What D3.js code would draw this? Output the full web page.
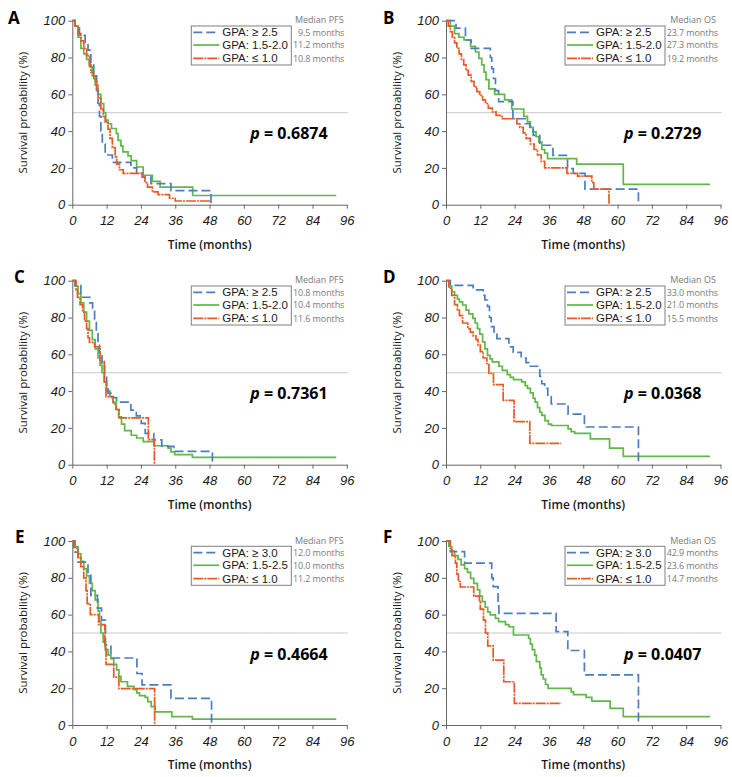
<!DOCTYPE html>
<html><head><meta charset="utf-8">
<script src="https://cdn.jsdelivr.net/npm/d3@7"></script>
<style>body{margin:0;background:#fff}</style>
</head><body>
<svg id="c" width="732" height="777"></svg>
<script>
// ---------- data ----------
const timeTicks = [0, 12, 24, 36, 48, 60, 72, 84, 96];
const survTicks = [0, 20, 40, 60, 80, 100];
const panelLetters = ["A", "B", "C", "D", "E", "F"];
const medianTitles = ["Median PFS", "Median OS", "Median PFS", "Median OS", "Median PFS", "Median OS"];
const groupLabelsAD = ["GPA: \u2265 2.5", "GPA: 1.5-2.0", "GPA: \u2264 1.0"];
const groupLabelsEF = ["GPA: \u2265 3.0", "GPA: 1.5-2.5", "GPA: \u2264 1.0"];
const mediansA = ["9.5 months", "11.2 months", "10.8 months"];
const mediansB = ["23.7 months", "27.3 months", "19.2 months"];
const mediansC = ["10.8 months", "10.4 months", "11.6 months"];
const mediansD = ["33.0 months", "21.0 months", "15.5 months"];
const mediansE = ["12.0 months", "10.0 months", "11.2 months"];
const mediansF = ["42.9 months", "23.6 months", "14.7 months"];
const pValues = ["0.6874", "0.2729", "0.7361", "0.0368", "0.4664", "0.0407"];

// survival steps: [time (months), survival (%) after the step]
const A_hi = [[0,100],[1,96],[2.5,92],[4.5,88],[5.5,84],[6.5,77],[7.5,70],[8.5,62],[9,55],[9.5,48],[10,40],[10.5,33],[11.5,27],[14,23],[20.5,20],[22.5,17],[24.5,15],[27.5,11.5],[34.5,7.7],[48.5,0]];
const A_mid = [[0,100],[1,97],[2,91],[3,85],[4,82],[5,79],[6,75],[7,70],[8,65],[9,60],[10,55],[11,50],[11.7,46],[12.5,44],[13.7,41.4],[15.4,38.7],[16,35],[17,32],[17.7,28.7],[19.5,26.5],[20.6,24],[22.5,20.5],[24.8,16],[28,12.7],[30.7,9.6],[42.1,5],[92.3,5]];
const A_lo = [[0,100],[1,97],[2,93],[3,89],[4,85],[5,81],[6,76],[6.5,72],[7.5,68],[8.5,63],[9,58],[10,52],[10.8,48],[11.5,45],[12.5,41],[13.2,36],[14,31],[15,26],[15.5,22],[16.5,19],[17.8,17],[24.5,15],[25.4,12],[26.3,9.6],[28,7],[30,5.5],[34,3.5],[36,2],[48.5,2]];

const B_hi = [[0,100],[3.5,96],[6.8,89.5],[8.8,85],[15.5,80],[16,74],[16.6,68.6],[17.3,62],[18.4,56],[23.4,46.7],[27.8,44],[29.3,41],[30.5,37.7],[32.8,32.3],[37.4,26.8],[42.5,19.6],[44.5,17],[48.6,8.5],[67.3,0]];
const B_mid = [[0,100],[1.5,97],[3,93],[4.5,91],[6.3,89.5],[8.6,86],[10.3,83],[11.5,79.5],[12.5,76],[13.3,72],[14,68],[15,63],[17,60],[20.5,57],[23,52],[27.2,48],[28.5,45],[29.5,42],[30.5,39.6],[31.5,37],[32.5,34],[33.5,30],[34.5,28],[35.5,25],[45.7,22],[62,11],[92.3,11]];
const B_lo = [[0,100],[0.8,97],[1.5,94],[2.2,91],[3,88],[3.8,85],[4.6,82],[5.4,79],[6.2,76],[7,73],[7.8,70.4],[8.8,67],[9.8,64],[10.8,61.5],[11.8,59.4],[12.8,57],[13.8,55],[14.8,52.5],[16.2,50.4],[17.5,48.5],[19.6,46.7],[24.8,44],[25.8,42],[27,39],[28,36],[29.5,33],[30.8,30],[32,27],[33.3,23.5],[34.5,20],[42.3,17],[46,15.5],[51,12],[51.7,8.5],[57,0]];

const C_hi = [[0,100],[1,97.5],[3,91],[6.1,88],[7.1,85],[7.8,79],[8.4,72],[9,66],[9.5,61],[10.4,55],[11.3,48.7],[12,42],[12.5,38.8],[13.5,36.5],[15.5,34],[20.5,29.7],[22.4,26.5],[24.1,22.5],[25.5,17],[28.5,13.5],[31.3,10],[35.5,7.2],[49,0]];
const C_mid = [[0,100],[1,97],[2,93],[3,88],[4,83],[5,78],[6,73],[7,68],[8,63],[9,58],[9.7,54],[10.4,50],[11.2,45],[12,40],[13.2,37],[14.3,34],[15.3,30],[16.2,26],[17.2,22],[18.3,18.5],[20.6,16],[22.5,14.5],[24.8,12.5],[28.5,10.3],[33.5,9],[34.5,7],[35.8,5.5],[42,4],[92.3,4]];
const C_lo = [[0,100],[1.3,95],[1.8,91],[2.7,87],[3.6,83],[4.3,78],[5,74],[5.5,69],[6,66.5],[7.8,64],[9.7,56],[11.2,45],[11.8,37],[14.3,33],[15.3,30],[16.4,25.5],[26.6,13.6],[28.7,0]];

const D_hi = [[0,100],[1.5,97.5],[9.5,95],[13,92],[13.6,89.5],[14.5,86],[15.2,80],[15.8,75],[16.8,71],[17.8,68.5],[22,64],[23.5,61],[26.3,58],[28,55.5],[29,53.5],[32.8,48],[33.5,44],[34.5,41.5],[35.6,37],[36.8,33],[42.7,27.5],[48.4,20.5],[67.3,0]];
const D_mid = [[0,100],[1,97],[2,94],[3,92],[4,90],[4.7,88.5],[5.8,86.8],[7,84],[8,82],[9.4,79.5],[10.2,77],[11,74],[11.8,71],[12.8,66.8],[13.6,63],[14.5,59.4],[15.4,57.5],[16.2,55.9],[18.5,53.5],[19.7,51.3],[21.4,49],[22.5,47.5],[23.6,46.2],[26.5,45],[27.7,43],[28.5,41.5],[29.5,39],[30.5,36],[31.2,34],[32,31],[32.8,28.5],[33.5,26.8],[34.6,24],[35.8,22],[36.9,21.3],[42.7,19.5],[43.8,18],[45,17],[50.5,14],[57.2,9],[62,4.5],[92.3,4.5]];
const D_lo = [[0,100],[1,96],[2,92],[3,87],[4,84],[4.7,81],[5.8,77],[7.6,74],[8.5,72],[9.5,70],[10.5,68],[11.2,65],[12,61.5],[13,58],[14.3,55],[15,49.6],[16.6,43.5],[20,35],[23.8,23.4],[29.3,11.6],[40.3,11.6]];

const E_hi = [[0,100],[0.5,94],[2,88.5],[5.5,82],[6.5,70.5],[8.8,63.5],[10.2,57],[11.6,43.5],[13.5,36.4],[22.6,28],[24.4,21.8],[34.5,14.5],[48.7,0]];
const E_mid = [[0,100],[1,97],[2,93],[3,89],[4,85],[5,81],[6,77],[7,73],[8,68],[9,62],[9.5,56],[10,50],[10.8,45],[11.5,41],[12.5,38],[13.5,36],[14.5,33],[15.5,30],[16.3,26.5],[17,23.5],[19.3,21],[21.6,19.2],[22.6,17.5],[23.5,16],[25.5,15],[26.4,12.7],[27.6,10],[29,7.1],[34.8,4.5],[42,3.2],[92.3,3.2]];
const E_lo = [[0,100],[1,96],[2,91],[3,86],[4,80],[4.8,73],[5.2,66],[6.3,60],[9.2,54.5],[11.4,43],[11.8,33],[14.5,26],[16.3,19.8],[28.8,0]];

const F_hi = [[0,100],[1.5,94.2],[6.5,88],[16,80],[16.5,75.2],[18.2,66],[18.5,60.7],[38.5,50.7],[42.6,40.5],[48.4,27.2],[67.3,0]];
const F_mid = [[0,100],[1,97],[2,94.5],[3,92],[4.2,90],[5.3,87],[6.5,85],[7.5,83],[8.6,79.7],[9.7,77],[11,73.4],[11.8,70],[12.7,67],[13.7,64],[14.6,61.5],[15.5,59.8],[17.3,58],[18.4,56.2],[20.8,54.5],[22,53.4],[23.6,48.9],[28.9,47],[29.5,44],[30.2,41],[31,38],[31.6,34.4],[32.8,31],[33.3,27.2],[34,25],[34.8,22],[35.7,19.9],[43.8,18],[44.6,16.5],[49,15],[51,13],[57.4,9],[62,4.5],[92.3,4.5]];
const F_lo = [[0,100],[1.5,96],[2.1,92],[3.3,88],[3.8,82],[4.3,78],[5,75],[9.7,70],[11.7,67],[12,63],[13.1,57],[13.8,50],[14.6,43],[16.5,35.3],[20.2,23.5],[23.9,11.8],[40.3,11.8]];

// ---------- panels ----------
const panels = [
  {curves:[A_hi,A_mid,A_lo], labels:groupLabelsAD, medians:mediansA},
  {curves:[B_hi,B_mid,B_lo], labels:groupLabelsAD, medians:mediansB},
  {curves:[C_hi,C_mid,C_lo], labels:groupLabelsAD, medians:mediansC},
  {curves:[D_hi,D_mid,D_lo], labels:groupLabelsAD, medians:mediansD},
  {curves:[E_hi,E_mid,E_lo], labels:groupLabelsEF, medians:mediansE},
  {curves:[F_hi,F_mid,F_lo], labels:groupLabelsEF, medians:mediansF}
];
const layout = [
  {x0:72.3, y0:20.7, lx:8,   ly:23.5},
  {x0:446,  y0:20.7, lx:383, ly:23.5},
  {x0:72.3, y0:280.7, lx:14, ly:283},
  {x0:446,  y0:280.7, lx:383, ly:283},
  {x0:72.3, y0:541, lx:15,   ly:543},
  {x0:446,  y0:541, lx:383,  ly:543}
];
const W = 274.5, H = 184;
const colors = ["#4a7ebf", "#63b64a", "#e85a24"];
const dashes = ["9,4", null, "10,1,2,1"];
const drawOrder = [1, 0, 2];

const svg = d3.select("#c");

panels.forEach((p, i) => {
  const L = layout[i];
  const x = d3.scaleLinear().domain([0, 96]).range([L.x0, L.x0 + W]);
  const y = d3.scaleLinear().domain([0, 100]).range([L.y0 + H, L.y0]);
  const g = svg.append("g");

  // 50% reference line
  g.append("line")
    .attr("x1", x(0)).attr("x2", x(96) + 1)
    .attr("y1", y(50)).attr("y2", y(50))
    .attr("stroke", "#c9c9c9").attr("stroke-width", 1);

  // axes
  const ax = g.append("g").attr("transform", `translate(0,${y(0)})`)
    .call(d3.axisBottom(x).tickValues(timeTicks).tickSize(4).tickSizeOuter(0).tickPadding(7.5));
  const ay = g.append("g").attr("transform", `translate(${x(0)},0)`)
    .call(d3.axisLeft(y).tickValues(survTicks).tickSize(4).tickSizeOuter(0).tickPadding(3));
  [ax, ay].forEach(a => {
    a.selectAll("path,line").attr("stroke", "#666").attr("stroke-width", 1);
    a.selectAll("text").attr("font-family", "'Liberation Sans', Arial, sans-serif")
      .attr("font-style", "italic").attr("font-size", 13).attr("fill", "#1a1a1a");
  });

  // axis titles
  g.append("text").attr("x", L.x0 + W / 2).attr("y", y(0) + 44)
    .attr("text-anchor", "middle").attr("font-family", "'Open Sans', sans-serif")
    .attr("font-weight", 600).attr("font-size", 12).attr("fill", "#1a1a1a")
    .text("Time (months)");
  g.append("text")
    .attr("transform", `translate(${L.x0 - 50},${L.y0 + H / 2}) rotate(-90)`)
    .attr("text-anchor", "middle").attr("dominant-baseline", "central")
    .attr("font-family", "'Open Sans', sans-serif").attr("font-size", 11.5).attr("fill", "#1a1a1a")
    .text("Survival probability (%)");

  // panel letter
  g.append("text").attr("x", L.lx).attr("y", L.ly)
    .attr("font-family", "'Open Sans', sans-serif").attr("font-weight", 700)
    .attr("font-size", 17).attr("fill", "#000").text(panelLetters[i]);

  // curves
  const line = d3.line().x(d => x(d[0])).y(d => y(d[1])).curve(d3.curveStepAfter);
  drawOrder.forEach(k => {
    g.append("path").datum(p.curves[k]).attr("d", line)
      .attr("fill", "none").attr("stroke", colors[k]).attr("stroke-width", 1.7)
      .attr("stroke-dasharray", dashes[k]);
  });

  // legend box
  const bx = L.x0 + 119, by = L.y0 + 5.3;
  g.append("rect").attr("x", bx).attr("y", by).attr("width", 100).attr("height", 39)
    .attr("fill", "#fff").attr("stroke", "#7f7f7f").attr("stroke-width", 1);
  const rows = [6.3, 19, 32.3];
  rows.forEach((ry, k) => {
    g.append("line").attr("x1", bx + 2).attr("x2", bx + 28)
      .attr("y1", by + ry).attr("y2", by + ry)
      .attr("stroke", colors[k]).attr("stroke-width", 1.7).attr("stroke-dasharray", dashes[k]);
    g.append("text").attr("x", bx + 31).attr("y", by + ry).attr("dy", "0.36em")
      .attr("font-family", "'Liberation Sans', Arial, sans-serif").attr("font-size", 11.5)
      .attr("fill", "#1a1a1a").text(p.labels[k]);
    g.append("text").attr("x", L.x0 + 272).attr("y", by + ry).attr("dy", "0.36em")
      .attr("text-anchor", "end").attr("font-family", "'Open Sans', sans-serif")
      .attr("font-size", 9).attr("letter-spacing", -0.1).attr("fill", "#7a7a7a").text(p.medians[k]);
  });
  g.append("text").attr("x", L.x0 + 247).attr("y", L.y0 - 0.5).attr("dy", "0.36em")
    .attr("text-anchor", "middle").attr("font-family", "'Open Sans', sans-serif")
    .attr("font-size", 9).attr("fill", "#7a7a7a").text(medianTitles[i]);

  // p-value
  const pt = g.append("text").attr("x", L.x0 + 178).attr("y", L.y0 + 118.5)
    .attr("font-family", "'Open Sans', sans-serif").attr("font-weight", 700)
    .attr("font-size", 16).attr("fill", "#000");
  pt.append("tspan").attr("font-style", "italic").text("p");
  pt.append("tspan").text(" = " + pValues[i]);
});
</script>
</body></html>
